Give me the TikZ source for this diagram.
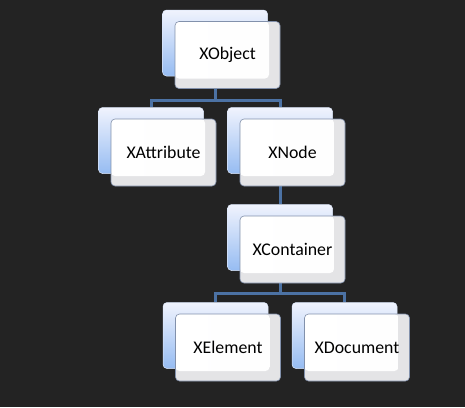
\documentclass[tikz,border=0pt]{standalone}
\usepackage{fontspec}
\setmainfont{Carlito}
\usepackage{tikz}
\usetikzlibrary{backgrounds, positioning}

\definecolor{bgdark}{RGB}{35,35,35}
\definecolor{backtop}{RGB}{240,243,253}
\definecolor{backbot}{RGB}{150,188,242}
\definecolor{frontgray}{RGB}{228,228,230}
\definecolor{boxline}{RGB}{130,145,172}
\definecolor{linkblue}{RGB}{76,114,164}

\tikzset{
  backbox/.style={draw=backtop!80!backbot, line width=0.5pt, rounded corners=4pt,
    top color=backtop, bottom color=backbot, minimum width=105pt, minimum height=66pt, inner sep=0pt},
  frontbox/.style={draw=boxline, line width=0.6pt, rounded corners=4pt, fill=frontgray,
    minimum width=105pt, minimum height=67pt, inner sep=0pt,
    font=\fontsize{17.8}{20}\selectfont,
    path picture={\fill[rounded corners=4pt, left color=white, right color=white!94!frontgray]
      (path picture bounding box.north west) rectangle
      ([xshift=-11pt, yshift=10pt]path picture bounding box.south east);}},
  link/.style={draw=linkblue, line width=3pt}
}

\begin{document}
\begin{tikzpicture}[x=1pt, y=-1pt]
\useasboundingbox (0,0) rectangle (465,407);
\begin{scope}[on background layer]
  \fill[bgdark] (0,0) rectangle (465,407);
\end{scope}

\node[backbox] at (215,43) (objB) {};
\node[frontbox] at (227.5,55) (obj) {XObject};

\node[backbox] at (151,140.5) (attrB) {};
\node[frontbox] at (163.5,152.5) (attr) {XAttribute};
\node[backbox] at (280,140.5) (xnodeB) {};
\node[frontbox] at (292.5,152.5) (xnode) {XNode};

\node[backbox] at (280,237.5) (contB) {};
\node[frontbox] at (292.5,249.5) (cont) {XContainer};

\node[backbox] at (215.5,335.5) (elemB) {};
\node[frontbox] at (228,347.5) (elem) {XElement};
\node[backbox] at (344.5,335.5) (docB) {};
\node[frontbox] at (357,347.5) (doc) {XDocument};

\begin{scope}[on background layer]
  \draw[link] (objB.south) -- ++(0,24) -| (attrB.north);
  \draw[link] (objB.south) -- ++(0,24) -| (xnodeB.north);
  \draw[link] (xnodeB.south) -- (contB.north);
  \draw[link] (contB.south) -- ++(0,23) -| (elemB.north);
  \draw[link] (contB.south) -- ++(0,23) -| (docB.north);
\end{scope}
\end{tikzpicture}
\end{document}
